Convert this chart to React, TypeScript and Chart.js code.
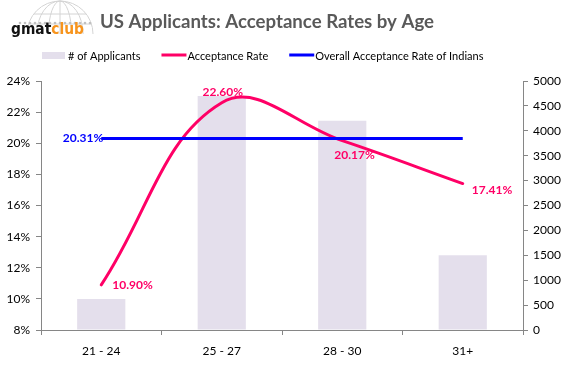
import React, { useEffect, useRef } from "react";
import { Chart, registerables } from "chart.js";

Chart.register(...registerables);

// ---- data ----
const titleText = "US Applicants: Acceptance Rates by Age";
const categories = ["21 - 24", "25 - 27", "28 - 30", "31+"];
const applicants = [620, 4700, 4200, 1500];
const acceptanceRate = [0.109, 0.226, 0.2017, 0.1741];
const overallIndianRate = [0.2031, 0.2031, 0.2031, 0.2031];
const seriesNames = ["# of Applicants", "Acceptance Rate", "Overall Acceptance Rate of Indians"];
const leftAxis = { min: 0.08, max: 0.24, step: 0.02 };
const rightAxis = { min: 0, max: 5000, step: 500 };

// ---- styles ----
const FONT = "Lato, 'Open Sans', sans-serif";
const BAR_COLOR = "#E4DFEC";
const PINK = "#FF0066";
const BLUE = "#0000FF";
const AXIS = "#868686";

// label placement per point (style only)
const pinkLabelPos = [
  { dx: 11, dy: 0, align: "left" },
  { dx: 1, dy: -11, align: "center" },
  { dx: -8, dy: 15, align: "left" },
  { dx: 9, dy: 7, align: "left" },
];
const blueLabelPos = [{ dx: 2, dy: 0, align: "right" }];

const pct2 = (v: number) => (v * 100).toFixed(2) + "%";

const decorPlugin = {
  id: "decor",
  afterDraw(chart: any) {
    const ctx = chart.ctx as CanvasRenderingContext2D;
    ctx.save();

    // --- logo globe ---
    ctx.strokeStyle = "#d4d4d4";
    ctx.lineWidth = 1;
    const cx = 60, cy = 34, r = 33;
    ctx.beginPath();
    ctx.arc(cx, cy, r, Math.PI, 2 * Math.PI);
    ctx.stroke();
    [0.35, 0.7].forEach((f) => {
      ctx.beginPath();
      ctx.ellipse(cx, cy, r * f, r, 0, Math.PI, 2 * Math.PI);
      ctx.stroke();
    });
    [10, 20].forEach((d) => {
      const hw = Math.sqrt(r * r - d * d);
      ctx.beginPath();
      ctx.moveTo(cx - hw, cy - d);
      ctx.lineTo(cx + hw, cy - d);
      ctx.stroke();
    });
    ctx.beginPath();
    ctx.moveTo(cx, cy - r);
    ctx.lineTo(cx, cy);
    ctx.stroke();
    // little people row
    ctx.fillStyle = "#c0c0c0";
    for (let x = 20; x <= 92; x += 5) {
      ctx.beginPath();
      ctx.arc(x, 23, 1.3, 0, Math.PI * 2);
      ctx.fill();
    }

    // --- logo text ---
    ctx.textBaseline = "alphabetic";
    ctx.textAlign = "left";
    ctx.font = "bold 16px 'DejaVu Sans', sans-serif";
    const full = ctx.measureText("gmatclub").width;
    const k = Math.min(1, 73 / full);
    const gw = ctx.measureText("gmat").width * k;
    ctx.fillStyle = "#111111";
    ctx.fillText("gmat", 11, 34, gw);
    ctx.fillStyle = "#F7941D";
    ctx.fillText("club", 11 + gw, 34, 73 - gw);

    // --- title ---
    ctx.font = `bold 19px ${FONT}`;
    ctx.fillStyle = "#595959";
    ctx.textAlign = "center";
    ctx.fillText(titleText, 267, 28, 334);

    // --- legend ---
    ctx.font = `11px ${FONT}`;
    ctx.textAlign = "left";
    ctx.textBaseline = "middle";
    const ly = 55;
    let x = 42;
    chart.data.datasets.forEach((ds: any) => {
      if (ds.type === "bar") {
        ctx.fillStyle = ds.backgroundColor;
        ctx.fillRect(x, ly - 3, 23, 7);
      } else {
        ctx.strokeStyle = ds.borderColor;
        ctx.lineWidth = 3;
        ctx.beginPath();
        ctx.moveTo(x, ly);
        ctx.lineTo(x + 25, ly);
        ctx.stroke();
      }
      x += 26;
      ctx.fillStyle = "#000";
      ctx.fillText(ds.label, x, ly + 1);
      x += ctx.measureText(ds.label).width + 21;
    });

    // --- data labels ---
    ctx.font = `bold 12px ${FONT}`;
    ctx.textBaseline = "middle";
    const drawLabels = (dsIndex: number, values: number[], pos: any[], color: string) => {
      const meta = chart.getDatasetMeta(dsIndex);
      pos.forEach((p, i) => {
        const el = meta.data[i];
        if (!el) return;
        ctx.fillStyle = color;
        ctx.textAlign = p.align;
        ctx.fillText(pct2(values[i]), el.x + p.dx, el.y + p.dy);
      });
    };
    drawLabels(1, acceptanceRate, pinkLabelPos, PINK);
    drawLabels(2, overallIndianRate, blueLabelPos, BLUE);

    ctx.restore();
  },
};

export default function App() {
  const ref = useRef<HTMLCanvasElement>(null);

  useEffect(() => {
    const tickFont = { family: FONT, size: 12 };
    const chart = new Chart(ref.current!, {
      type: "bar",
      data: {
        labels: categories,
        datasets: [
          {
            type: "bar",
            label: seriesNames[0],
            data: applicants,
            backgroundColor: BAR_COLOR,
            borderWidth: 0,
            yAxisID: "y1",
            barPercentage: 0.4,
            categoryPercentage: 1,
            order: 3,
          } as any,
          {
            type: "line",
            label: seriesNames[1],
            data: acceptanceRate,
            borderColor: PINK,
            backgroundColor: PINK,
            borderWidth: 3,
            borderCapStyle: "round",
            pointRadius: 0,
            tension: 0.4,
            yAxisID: "y",
            order: 2,
          },
          {
            type: "line",
            label: seriesNames[2],
            data: overallIndianRate,
            borderColor: BLUE,
            backgroundColor: BLUE,
            borderWidth: 3,
            pointRadius: 0,
            tension: 0,
            yAxisID: "y",
            order: 1,
          },
        ],
      },
      options: {
        responsive: false,
        animation: false,
        devicePixelRatio: 1,
        layout: { padding: { top: 81, left: 5, right: 6, bottom: 0 } },
        plugins: {
          legend: { display: false },
          title: { display: false },
          tooltip: { enabled: false },
        },
        scales: {
          x: {
            offset: true,
            grid: {
              offset: true,
              drawOnChartArea: false,
              drawTicks: true,
              tickLength: 5,
              color: AXIS,
            },
            border: { color: AXIS, width: 1 },
            ticks: { font: tickFont, color: "#000", padding: 9, maxRotation: 0 },
            afterFit: (s: any) => {
              s.height = 36;
            },
          },
          y: {
            position: "left",
            min: leftAxis.min,
            max: leftAxis.max,
            grid: { drawOnChartArea: false, drawTicks: true, tickLength: 5, color: AXIS },
            border: { color: AXIS, width: 1 },
            ticks: {
              stepSize: leftAxis.step,
              font: tickFont,
              color: "#000",
              padding: 6,
              callback: (v: any) => Math.round(Number(v) * 100) + "%",
            },
            afterFit: (s: any) => {
              s.width = 36;
            },
          },
          y1: {
            position: "right",
            min: rightAxis.min,
            max: rightAxis.max,
            grid: { drawOnChartArea: false, drawTicks: true, tickLength: 5, color: AXIS },
            border: { color: AXIS, width: 1 },
            ticks: {
              stepSize: rightAxis.step,
              font: tickFont,
              color: "#000",
              padding: 5,
              callback: (v: any) => String(Math.round(Number(v))),
            },
            afterFit: (s: any) => {
              s.width = 40;
            },
          },
        },
      },
      plugins: [decorPlugin],
    });
    return () => chart.destroy();
  }, []);

  return (
    <div style={{ position: "absolute", left: 0, top: 0, width: 569, height: 366, background: "#fff" }}>
      <canvas ref={ref} width={569} height={366} style={{ display: "block", width: 569, height: 366 }} />
    </div>
  );
}
